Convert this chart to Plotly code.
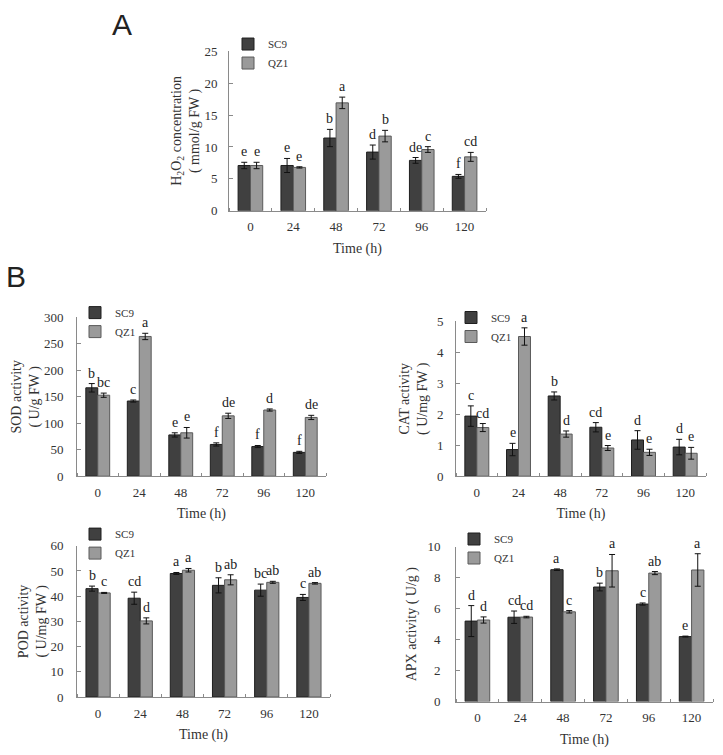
import plotly.graph_objects as go

W, H = 723, 755

hours = ["0", "24", "48", "72", "96", "120"]
series_names = ["SC9", "QZ1"]

# Panel A: H2O2
h2o2_sc9 = [7.1, 7.1, 11.4, 9.2, 7.9, 5.4]
h2o2_sc9_err = [0.5, 1.1, 1.35, 1.1, 0.45, 0.3]
h2o2_qz1 = [7.1, 6.8, 16.9, 11.7, 9.6, 8.45]
h2o2_qz1_err = [0.5, 0.1, 0.9, 0.9, 0.45, 0.7]
h2o2_sc9_lab = ["e", "e", "b", "d", "de", "f"]
h2o2_qz1_lab = ["e", "e", "a", "b", "c", "cd"]

# SOD
sod_sc9 = [167, 142, 78, 60, 56, 45]
sod_sc9_err = [8, 2, 4, 3, 2, 2]
sod_qz1 = [153, 264, 82, 114, 125, 111]
sod_qz1_err = [4, 6, 10, 5, 2, 4]
sod_sc9_lab = ["b", "c", "e", "f", "f", "f"]
sod_qz1_lab = ["bc", "a", "e", "de", "d", "de"]

# CAT
cat_sc9 = [1.94, 0.86, 2.59, 1.58, 1.17, 0.94]
cat_sc9_err = [0.33, 0.2, 0.13, 0.15, 0.3, 0.25]
cat_qz1 = [1.57, 4.51, 1.36, 0.91, 0.77, 0.74]
cat_qz1_err = [0.13, 0.28, 0.1, 0.08, 0.1, 0.19]
cat_sc9_lab = ["c", "e", "b", "cd", "d", "d"]
cat_qz1_lab = ["cd", "a", "d", "e", "e", "e"]

# POD
pod_sc9 = [43.0, 39.2, 49.0, 44.3, 42.4, 39.5]
pod_sc9_err = [1.0, 2.4, 0.4, 3.0, 2.4, 1.2]
pod_qz1 = [41.3, 30.2, 50.3, 46.5, 45.5, 45.1]
pod_qz1_err = [0.2, 1.2, 0.7, 2.0, 0.4, 0.3]
pod_sc9_lab = ["b", "cd", "a", "b", "bc", "c"]
pod_qz1_lab = ["c", "d", "a", "ab", "ab", "ab"]

# APX
apx_sc9 = [5.2, 5.45, 8.52, 7.4, 6.3, 4.2]
apx_sc9_err = [1.0, 0.4, 0.05, 0.25, 0.07, 0.03]
apx_qz1 = [5.27, 5.46, 5.8, 8.45, 8.3, 8.5]
apx_qz1_err = [0.2, 0.05, 0.08, 1.05, 0.1, 1.05]
apx_sc9_lab = ["d", "cd", "a", "b", "c", "e"]
apx_qz1_lab = ["d", "cd", "c", "a", "ab", "a"]

SERIF = "Liberation Serif, Times New Roman, serif"
SANS = "Liberation Sans, Arial, sans-serif"
BARGAP = 0.425
OFF = (1 - BARGAP) / 4

colors = {"SC9": ("#404040", "#1e1e1e"), "QZ1": ("#9a9a9a", "#5a5a5a")}

# pixel boxes: (left, right, top, bottom); legend (first symbol x, first item y);
# ts = y title standoff, ls = y tick label standoff
panels = [
    dict(sc9=h2o2_sc9, sc9e=h2o2_sc9_err, qz1=h2o2_qz1, qz1e=h2o2_qz1_err,
         l1=h2o2_sc9_lab, l2=h2o2_qz1_lab, rng=[0, 25], dtick=5,
         title="H<sub>2</sub>O<sub>2</sub> concentration<br>( mmol/g FW )",
         box=(229, 486, 45, 208), leg=(249, 43), ts=1, ls=8),
    dict(sc9=sod_sc9, sc9e=sod_sc9_err, qz1=sod_qz1, qz1e=sod_qz1_err,
         l1=sod_sc9_lab, l2=sod_qz1_lab, rng=[0, 300], dtick=50,
         title="SOD activity<br>( U/g FW )",
         box=(77, 326, 316.7, 478.7), leg=(96, 317), ts=0, ls=10),
    dict(sc9=cat_sc9, sc9e=cat_sc9_err, qz1=cat_qz1, qz1e=cat_qz1_err,
         l1=cat_sc9_lab, l2=cat_qz1_lab, rng=[0, 5], dtick=1,
         title="CAT activity<br>( U/mg FW )",
         box=(456, 706, 320.7, 478.7), leg=(472, 322), ts=5, ls=9),
    dict(sc9=pod_sc9, sc9e=pod_sc9_err, qz1=pod_qz1, qz1e=pod_qz1_err,
         l1=pod_sc9_lab, l2=pod_qz1_lab, rng=[0, 60], dtick=10,
         title="POD activity<br>( U/mg FW )",
         box=(77, 330, 549.7, 704), leg=(96, 543), ts=0, ls=10),
    dict(sc9=apx_sc9, sc9e=apx_sc9_err, qz1=apx_qz1, qz1e=apx_qz1_err,
         l1=apx_sc9_lab, l2=apx_qz1_lab, rng=[0, 10], dtick=2,
         title="APX activity ( U/g )",
         box=(456, 713, 550.7, 708.7), leg=(475, 548), ts=7, ls=12),
]

fig = go.Figure()
idx = list(range(len(hours)))
annotations = []
layout = {}

for k, p in enumerate(panels, start=1):
    sfx = "" if k == 1 else str(k)
    xa, ya = "x" + sfx, "y" + sfx
    legname = "legend" + sfx
    L, R, T, B = p["box"]
    for name, vals, errs, labs, sign in [
        ("SC9", p["sc9"], p["sc9e"], p["l1"], -1),
        ("QZ1", p["qz1"], p["qz1e"], p["l2"], 1),
    ]:
        fill, line = colors[name]
        fig.add_trace(go.Bar(
            x=idx, y=vals, name=name, xaxis=xa, yaxis=ya, legend=legname,
            marker=dict(color=fill, line=dict(color=line, width=1)),
            error_y=dict(type="data", array=errs, color="#111111", thickness=1, width=3),
        ))
        for i, (v, e, lab) in enumerate(zip(vals, errs, labs)):
            annotations.append(dict(
                x=i + sign * OFF, y=v + e, xref=xa, yref=ya, text=lab,
                showarrow=False, xanchor="center", yanchor="bottom", yshift=1,
                font=dict(family=SERIF, size=14, color="#222222"),
            ))
    layout["xaxis" + sfx] = dict(
        domain=[L / W, R / W], anchor=ya, range=[-0.5, 5.5],
        tickmode="array", tickvals=idx, ticktext=hours, ticks="",
        showline=True, linecolor="#8a8a8a", linewidth=1, showgrid=False,
        zeroline=False, tickfont=dict(family=SERIF, size=13, color="#333333"),
        ticklabelstandoff=4,
        minor=dict(tickmode="linear", tick0=0.5, dtick=1, ticks="inside",
                   ticklen=3, tickcolor="#8a8a8a", showgrid=False),
        title=dict(text="Time (h)", font=dict(family=SERIF, size=14, color="#333333"),
                   standoff=9),
    )
    layout["yaxis" + sfx] = dict(
        domain=[1 - B / H, 1 - T / H], anchor=xa, range=p["rng"], dtick=p["dtick"],
        showline=True, linecolor="#8a8a8a", linewidth=1, showgrid=False,
        zeroline=False, ticks="inside", ticklen=4, tickcolor="#8a8a8a",
        tickfont=dict(family=SERIF, size=13, color="#333333"),
        ticklabelstandoff=p["ls"],
        title=dict(text=p["title"], font=dict(family=SERIF, size=14, color="#333333"),
                   standoff=p["ts"]),
    )
    sx, sy = p["leg"]
    layout[legname] = dict(
        x=(sx - 21) / W, y=1 - (sy - 20) / H, xanchor="left", yanchor="top",
        bgcolor="rgba(0,0,0,0)", font=dict(family=SERIF, size=11, color="#333333"),
        itemwidth=30, tracegroupgap=0,
    )

annotations.append(dict(x=122 / W, y=1 - 18 / H, xref="paper", yref="paper", text="A",
                        xanchor="center", yanchor="middle", showarrow=False,
                        font=dict(family=SANS, size=30, color="#222222")))
annotations.append(dict(x=16 / W, y=1 - 275 / H, xref="paper", yref="paper", text="B",
                        xanchor="center", yanchor="middle", showarrow=False,
                        font=dict(family=SANS, size=30, color="#222222")))

fig.update_layout(
    width=W, height=H, margin=dict(l=0, r=0, t=0, b=0),
    paper_bgcolor="white", plot_bgcolor="white",
    barmode="group", bargap=BARGAP, bargroupgap=0,
    annotations=annotations, **layout,
)

fig.write_html("out.html", config={"displayModeBar": False},
               post_script="document.body.style.margin='0';")
